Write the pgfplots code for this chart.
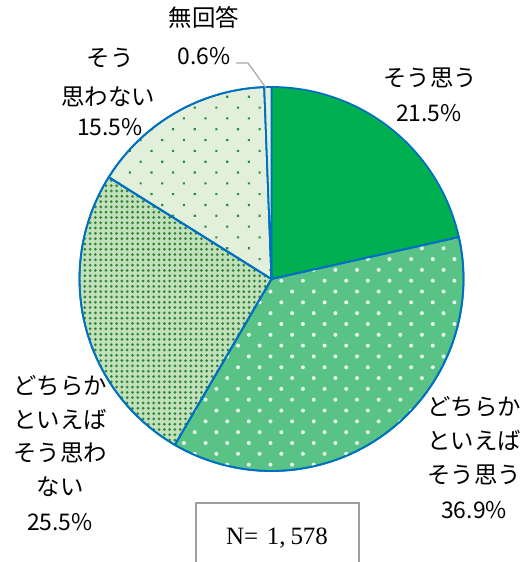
\documentclass[border=0pt]{standalone}
\usepackage{pgfplots}
\pgfplotsset{compat=1.18}
\usetikzlibrary{patterns.meta}
\usepackage{fontspec}
\setmainfont{Noto Sans CJK JP}
\newfontfamily\nfont{Liberation Serif}
\definecolor{pieblue}{HTML}{0070C0}
\definecolor{cA}{HTML}{00B050}
\definecolor{cB}{HTML}{58C385}
\definecolor{cC}{HTML}{C2E0BA}
\definecolor{cCdot}{HTML}{2F8439}
\definecolor{cD}{HTML}{E2EFDA}
\definecolor{cDdot}{HTML}{2E8B3E}
\definecolor{cE}{HTML}{E2EFDA}
% pie data: percentages, clockwise from top
\pgfmathsetmacro{\pA}{21.5}
\pgfmathsetmacro{\pB}{36.9}
\pgfmathsetmacro{\pC}{25.5}
\pgfmathsetmacro{\pD}{15.5}
\pgfmathsetmacro{\pE}{0.6}
\pgfmathsetmacro{\aO}{90}
\pgfmathsetmacro{\aA}{\aO-3.6*\pA}
\pgfmathsetmacro{\aB}{\aA-3.6*\pB}
\pgfmathsetmacro{\aC}{\aB-3.6*\pC}
\pgfmathsetmacro{\aD}{\aC-3.6*\pD}
\pgfmathsetmacro{\aE}{\aD-3.6*\pE}
\def\cx{271.5}
\def\cy{283}
\def\R{192}
\begin{document}
\begin{tikzpicture}
\begin{axis}[name=ax, x=1bp, y=1bp, xmin=0, xmax=528, ymin=0, ymax=562,
  hide axis, clip=false, axis line style={draw=none}]
% slices
\addplot[fill=cA, draw=pieblue, line width=1.8pt, domain=\aA:\aO, samples=80, variable=\t]
  ({\cx+\R*cos(\t)},{\cy+\R*sin(\t)}) -- (\cx,\cy) -- cycle;
\addplot[fill=cB, draw=pieblue, line width=1.8pt, domain=\aB:\aA, samples=120, variable=\t,
  postaction={pattern={Dots[radius=2bp, distance=15.3bp, angle=45]}, pattern color=white!85!cB}]
  ({\cx+\R*cos(\t)},{\cy+\R*sin(\t)}) -- (\cx,\cy) -- cycle;
\addplot[fill=cC, draw=pieblue, line width=1.8pt, domain=\aC:\aB, samples=100, variable=\t,
  postaction={pattern={Dots[radius=1.5bp, distance=5.3bp]}, pattern color=cCdot}]
  ({\cx+\R*cos(\t)},{\cy+\R*sin(\t)}) -- (\cx,\cy) -- cycle;
\addplot[fill=cD, draw=pieblue, line width=1.8pt, domain=\aD:\aC, samples=80, variable=\t,
  postaction={pattern={Dots[radius=1.5bp, distance=15.3bp, angle=45]}, pattern color=cDdot}]
  ({\cx+\R*cos(\t)},{\cy+\R*sin(\t)}) -- (\cx,\cy) -- cycle;
\addplot[fill=cE, draw=pieblue, line width=1.8pt, domain=\aE:\aD, samples=10, variable=\t]
  ({\cx+\R*cos(\t)},{\cy+\R*sin(\t)}) -- (\cx,\cy) -- cycle;
% leader line for 無回答
\draw[gray!70, line width=1.2bp] (236,499) -- (248,499) -- (266,474);
% labels
\begin{scope}[every node/.style={align=center, inner sep=0pt, font=\fontsize{23.5}{34}\selectfont}]
\node at (204,545) {無回答};
\node at (430,484) {そう思う};
\node at (110,504) {そう};
\node at (108,465) {思わない};
\node at (60,126) {どちらか\\といえば\\そう思わ\\ない};
\node at (474,121) {どちらか\\といえば\\そう思う};
\end{scope}
\begin{scope}[every node/.style={align=center, inner sep=0pt, font=\fontsize{23}{34}\selectfont}]
\node at (204,506) {0.6\%};
\node at (429,449) {21.5\%};
\node at (110,435) {15.5\%};
\node at (60,40) {25.5\%};
\node at (474,52) {36.9\%};
\end{scope}
% N box
\draw[gray!75, line width=1.4bp] (196,-2) -- (196,59) -- (359,59) -- (359,-2);
\node[font=\nfont\fontsize{25}{26}\selectfont] at (277,24) {N=\hspace{0.35em}1,\hspace{0.2em}578};
\end{axis}
\pgfresetboundingbox
\path (ax.south west) rectangle (ax.north east);
\end{tikzpicture}
\end{document}
